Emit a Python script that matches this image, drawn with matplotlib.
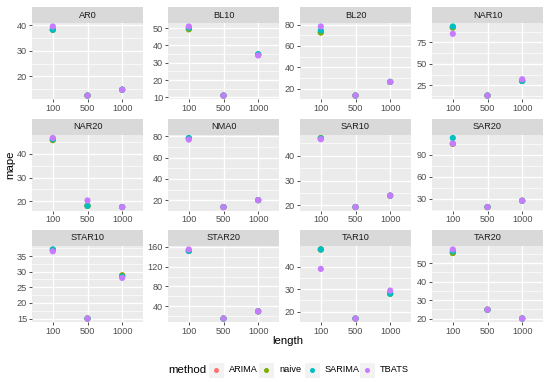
import matplotlib
matplotlib.use("Agg")
import matplotlib.pyplot as plt
from matplotlib.patches import Rectangle
from matplotlib.lines import Line2D

plt.rcParams["font.family"] = ["Liberation Sans", "DejaVu Sans"]

panels = ["AR0", "BL10", "BL20", "NAR10", "NAR20", "NMA0",
          "SAR10", "SAR20", "STAR10", "STAR20", "TAR10", "TAR20"]
lengths = ["100", "500", "1000"]
methods = ["ARIMA", "naive", "SARIMA", "TBATS"]
colors = ["#F8766D", "#7CAE00", "#00BFC4", "#C77CFF"]

# mape per panel at length 100, 500, 1000
arima = [[38.3, 12.5, 14.8], [49.4, 11.0, 34.6], [72.6, 13.8, 26.5], [92.4, 13.0, 30.0],
         [45.9, 18.0, 17.5], [78.0, 13.5, 20.0], [47.0, 19.3, 23.9], [105.0, 18.7, 27.3],
         [37.0, 15.0, 28.8], [152.0, 14.7, 29.3], [47.8, 16.9, 28.0], [55.6, 24.8, 20.0]]
naive = [[38.3, 12.5, 14.8], [49.4, 11.0, 34.6], [72.6, 13.8, 26.5], [92.4, 13.0, 30.0],
         [45.9, 18.0, 17.5], [78.0, 13.5, 20.0], [47.2, 19.3, 23.9], [105.0, 18.7, 27.3],
         [37.0, 15.0, 28.8], [152.0, 14.7, 29.3], [47.8, 16.9, 28.0], [55.6, 24.8, 20.0]]
sarima = [[38.3, 12.5, 14.8], [50.2, 11.0, 35.0], [74.5, 13.8, 26.5], [93.6, 13.0, 30.0],
          [46.3, 18.0, 17.5], [78.5, 13.5, 20.0], [47.0, 19.3, 23.9], [113.0, 18.7, 27.3],
          [37.1, 15.0, 28.4], [152.0, 14.7, 29.3], [47.8, 16.9, 28.0], [56.5, 24.8, 20.0]]
tbats = [[39.6, 12.5, 14.8], [51.0, 11.0, 34.2], [78.2, 13.8, 26.5], [85.0, 13.0, 32.0],
         [46.8, 20.3, 17.5], [77.0, 13.5, 20.0], [46.7, 19.3, 23.9], [105.3, 18.7, 27.3],
         [36.5, 15.0, 28.0], [155.0, 14.7, 29.3], [39.1, 16.9, 29.4], [57.5, 24.8, 20.0]]
series = [arima, naive, sarima, tbats]

yticks = [[20, 30, 40], [10, 20, 30, 40, 50], [20, 40, 60, 80], [25, 50, 75],
          [20, 30, 40], [20, 40, 60, 80], [20, 30, 40], [30, 60, 90],
          [15, 20, 25, 30, 35], [40, 80, 120, 160], [20, 30, 40], [20, 30, 40, 50]]

W, H = 550, 382
fig = plt.figure(figsize=(W / 100, H / 100), dpi=100)


def px_box(x0, y0, w, h):
    return [x0 / W, 1 - (y0 + h) / H, w / W, h / H]


lefts = [32, 168, 300, 432]
tops = [7, 118.5, 230]
pw, strip_h, ph = 111, 16, 76
txt_col = "#4D4D4D"
small = 6.6

for i, name in enumerate(panels):
    r, c = divmod(i, 4)
    x0, y0 = lefts[c], tops[r]

    sax = fig.add_axes(px_box(x0, y0, pw, strip_h))
    sax.set_facecolor("#D9D9D9")
    sax.set_xticks([])
    sax.set_yticks([])
    for s in sax.spines.values():
        s.set_visible(False)
    sax.text(0.5, 0.5, name, ha="center", va="center", fontsize=small,
             color="#1A1A1A", transform=sax.transAxes)

    ax = fig.add_axes(px_box(x0, y0 + strip_h, pw, ph))
    ax.set_facecolor("#EBEBEB")
    for s in ax.spines.values():
        s.set_visible(False)

    vals = [v for ser in series for v in ser[i]]
    lo, hi = min(vals), max(vals)
    pad = (hi - lo) * 0.05
    ax.set_ylim(lo - pad, hi + pad)
    ax.set_xlim(0.4, 3.6)

    ticks = yticks[i]
    step = ticks[1] - ticks[0]
    minors = [ticks[0] - step / 2] + [t + step / 2 for t in ticks]
    for m in minors:
        ax.axhline(m, color="white", lw=0.5, zorder=0)
    for t in ticks:
        ax.axhline(t, color="white", lw=1.0, zorder=0)
    for xi in range(1, 4):
        ax.axvline(xi, color="white", lw=1.0, zorder=0)

    for ser, col in zip(series, colors):
        ax.scatter([1, 2, 3], ser[i], s=20, color=col, edgecolors="none", zorder=3)

    ax.set_yticks(ticks)
    ax.set_yticklabels([str(t) for t in ticks])
    ax.set_xticks([1, 2, 3])
    ax.set_xticklabels(lengths)
    ax.tick_params(axis="both", length=2, width=0.6, color="#333333",
                   labelsize=small, labelcolor=txt_col, pad=1.5)

fig.text(288 / W, 1 - 341 / H, "length", ha="center", va="center", fontsize=8.2)
fig.text(10 / W, 1 - 165 / H, "mape", ha="center", va="center", fontsize=8.2,
         rotation=90)

# legend drawn by hand so the title sits on the left like ggplot
ly = 370
fig.text(168 / W, 1 - ly / H, "method", ha="left", va="center", fontsize=8.2)
key_x = [216, 266, 312, 367]
for kx, m, col in zip(key_x, methods, colors):
    fig.add_artist(Rectangle(((kx - 7.5) / W, 1 - (ly + 7.5) / H), 15 / W, 15 / H,
                             transform=fig.transFigure, facecolor="#F2F2F2",
                             edgecolor="none"))
    fig.add_artist(Line2D([kx / W], [1 - ly / H], transform=fig.transFigure,
                          marker="o", markersize=3.6, color=col, lw=0,
                          markeredgewidth=0))
    fig.text((kx + 13) / W, 1 - ly / H, m, ha="left", va="center", fontsize=small)

fig.savefig("out.png", dpi=100)
